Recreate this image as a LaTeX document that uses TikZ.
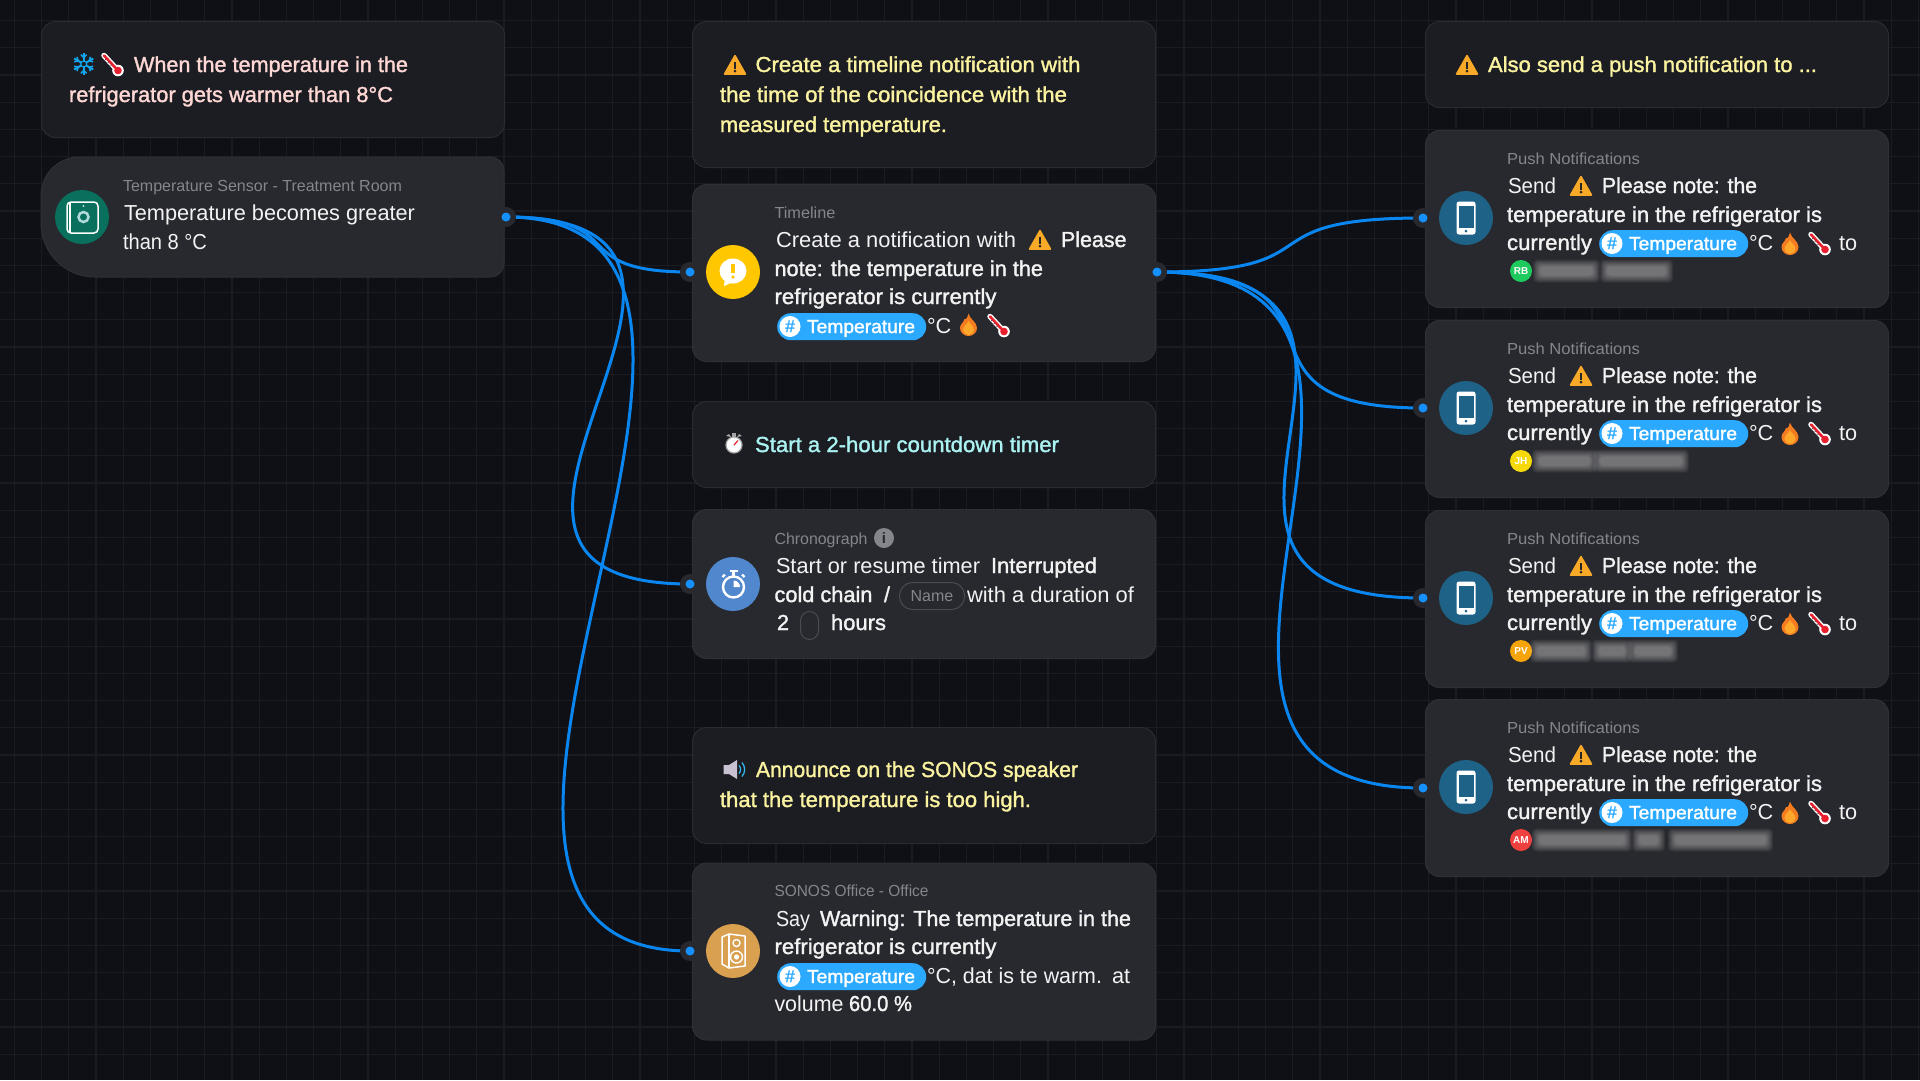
\documentclass[tikz,border=0pt]{standalone}
\usepackage{fontspec}
\setmainfont{Liberation Sans}
\newfontfamily\medf[FakeBold=1.5]{Liberation Sans}
\definecolor{bgc}{HTML}{0F1015}
\definecolor{gridc}{HTML}{1B1C21}
\definecolor{cmtc}{HTML}{1C1D22}
\definecolor{cmtb}{HTML}{2A2B30}
\definecolor{cardc}{HTML}{28292E}
\definecolor{cardb}{HTML}{2F3035}
\definecolor{wirec}{HTML}{0A86F0}
\definecolor{dotc}{HTML}{1590FF}
\definecolor{lblc}{HTML}{85868B}
\definecolor{bodyc}{HTML}{F3F3F4}
\definecolor{pinkc}{HTML}{FFD8D5}
\definecolor{yelc}{HTML}{FBF3A0}
\definecolor{cyac}{HTML}{ABF2F2}
\definecolor{pillc}{HTML}{2BA9FF}
\definecolor{warnc}{HTML}{F9A928}
\definecolor{phonec}{HTML}{1F6288}
\definecolor{flamec}{HTML}{F47B20}
\definecolor{flamei}{HTML}{FDA82A}
\definecolor{redc}{HTML}{E8202E}
\definecolor{icoyel}{HTML}{FFC700}
\definecolor{icoblu}{HTML}{5188CD}
\definecolor{icotan}{HTML}{D9A04F}
\definecolor{icogrn}{HTML}{08705C}
\definecolor{snowc}{HTML}{12A5EE}
\definecolor{avgrn}{HTML}{1EC95E}
\definecolor{avyel}{HTML}{F5D90A}
\definecolor{avora}{HTML}{F5A50A}
\definecolor{avred}{HTML}{EF4040}
\definecolor{pillb}{HTML}{4A4B50}
\definecolor{spkc}{HTML}{C9C2D3}
\newcounter{tn}
\tikzset{
  cmtbox/.style={draw=cmtb,fill=cmtc,line width=1pt,rounded corners=14pt,inner sep=0pt,anchor=north west},
  cardbox/.style={draw=cardb,fill=cardc,line width=1pt,rounded corners=14pt,inner sep=0pt,anchor=north west},
  txt/.style={anchor=base west,inner sep=0pt,outer sep=0pt,text=bodyc,font=\fontsize{21.7}{26}\selectfont},
  med/.style={font=\fontsize{21.7}{26}\medf},
  lbl/.style={text=lblc,font=\fontsize{16}{20}\selectfont},
  wire/.style={draw=wirec,line width=3pt},
  halo/.style={circle,fill=cardc,minimum size=20pt,inner sep=0pt},
  portdot/.style={circle,fill=dotc,minimum size=9pt,inner sep=0pt},
  icocirc/.style={circle,minimum size=54pt,inner sep=0pt},
}
\newcommand\tx[4][]{\stepcounter{tn}\node[txt,#1] (t\arabic{tn}) at (#2,#3) {#4};}
\newcommand\txw[5][]{\stepcounter{tn}\node[txt,#1] (t\arabic{tn}) at (#2,#3) {\resizebox{#4pt}{\height}{#5}};}
\newcommand\portat[3]{\node[halo] (#1h) at (#2,#3) {};\node[portdot] (#1) at (#2,#3) {};}
\newcommand\warnico[2]{\begin{scope}[shift={(#1,#2)}]
  \fill[warnc,draw=warnc,line width=1.5pt,line join=round] (0,-9.5) -- (10.5,9) -- (-10.5,9) -- cycle;
  \fill[black!85] (-1.3,-3.5) rectangle (1.3,3.5);
  \fill[black!85] (0,6.2) circle (1.5);
\end{scope}}
\newcommand\flameico[2]{\begin{scope}[shift={(#1,#2)}]
  \fill[flamec] (0,-11.5) .. controls (1,-6) and (8.5,-3) .. (8.5,3) .. controls (8.5,8) and (4,11) .. (0,11) .. controls (-4,11) and (-8.5,8) .. (-8.5,3) .. controls (-8.5,-1) and (-5,-2) .. (-4,-6) .. controls (-2,-5) and (-1,-8) .. (0,-11.5) -- cycle;
  \fill[flamei] (0,-4) .. controls (1,-1) and (5.5,1) .. (5.5,5) .. controls (5.5,8) and (2.5,10) .. (0,10) .. controls (-2.5,10) and (-5.5,8) .. (-5.5,5) .. controls (-5.5,1) and (-1,-1) .. (0,-4) -- cycle;
\end{scope}}
\newcommand\thermico[2]{\begin{scope}[shift={(#1,#2)}]
  \draw[white,line width=5.5pt,line cap=round] (-9,-8.5) -- (4.5,6);
  \fill[white] (5,6.5) circle (5.8);
  \draw[redc,line width=2.6pt,line cap=round] (-9,-8.5) -- (4.5,6);
  \fill[redc] (5,6.5) circle (3.8);
  \foreach \k in {0.2,0.4,0.6}{\draw[black!70,line width=.7pt] ($(-9,-8.5)!\k!(4.5,6)+(-1.6,1.6)$) -- ($(-9,-8.5)!\k!(4.5,6)+(-.6,.6)$);}
\end{scope}}
\newcommand\temppill[3][Temperature]{\begin{scope}[shift={(#2,#3)}]
  \stepcounter{tn}
  \node[fill=pillc,rounded corners=13.5pt,inner sep=0pt,minimum width=149pt,minimum height=27pt,anchor=north west] (t\arabic{tn}) at (0,0) {};
  \fill[white] (13,13.5) circle (10.5);
  \stepcounter{tn}
  \node[text=pillc,inner sep=0pt,font=\fontsize{17}{17}\medf] (t\arabic{tn}) at (13,13.2) {\#};
  \stepcounter{tn}
  \node[txt,text=white,anchor=base west,font=\fontsize{19}{20}\medf] (t\arabic{tn}) at (30,20) {\resizebox{108pt}{\height}{#1}};
\end{scope}}
\newcommand\avatar[5]{\stepcounter{tn}\node[circle,fill=#4,minimum size=22pt,inner sep=0pt,text=#5,font=\fontsize{10}{10}\bfseries] (t\arabic{tn}) at (#1,#2) {#3};}
\newcommand\blurbar[3]{\foreach \e in {7,6,5,4,3,2,1,0}{\fill[white,opacity=.055,rounded corners=4pt] (#1-\e,#3-4.5-\e) rectangle (#2+\e,#3+4.5+\e);}}
\newcommand\pushcard[5]{%
  \node[cardbox,minimum width=463pt,minimum height=177pt] (#1) at (1425,#2) {};
  \node[icocirc,fill=phonec] (#1i) at (1466,#2+88) {};
  \begin{scope}[shift={(1466,#2+88)}]
    \fill[white,rounded corners=2.5pt] (-9.5,-16.5) rectangle (9.5,16.5);
    \fill[phonec] (-7.5,-12) rectangle (7.5,10);
    \fill[phonec] (0,13.2) circle (1.5);
  \end{scope}
  \txw[lbl]{1507}{#2+34}{133}{Push Notifications}
  \txw{1508}{#2+63}{48}{Send}
  \warnico{1581}{#2+56}
  \txw[med]{1602}{#2+63}{155}{Please note: the}
  \txw[med]{1507}{#2+92}{315}{temperature in the refrigerator is}
  \txw[med]{1507}{#2+120}{85}{currently}
  \temppill{1599}{#2+100}
  \tx{1749}{#2+120}{°C}
  \flameico{1790}{#2+114}
  \thermico{1820}{#2+113}
  \tx{1839}{#2+120}{to}
  \avatar{1521}{#2+141}{#3}{#4}{#5}
}
\usetikzlibrary{calc}
\begin{document}
\begin{tikzpicture}[x=1pt,y=-1pt]
\useasboundingbox (0,0) rectangle (1920,1080);
\fill[bgc] (0,0) rectangle (1920,1080);
\foreach \k in {0,...,70}{\draw[gridc,line width=1.2pt] ({14.4+27.2*\k},0) -- ({14.4+27.2*\k},1080);}
\foreach \k in {0,...,39}{\draw[gridc,line width=1.2pt] (0,{20.6+27.2*\k}) -- (1920,{20.6+27.2*\k});}

% comment boxes
\node[cmtbox,minimum width=463pt,minimum height=116pt] (cm1) at (41,21) {};
\node[cmtbox,minimum width=463pt,minimum height=146pt] (cm2) at (692,21) {};
\node[cmtbox,minimum width=463pt,minimum height=86pt] (cm3) at (692,401) {};
\node[cmtbox,minimum width=463pt,minimum height=116pt] (cm4) at (692,727) {};
\node[cmtbox,minimum width=463pt,minimum height=86pt] (cm5) at (1425,21) {};

% sensor card
\draw[draw=cardb,fill=cardc,line width=1pt] (80,157) -- (490,157) .. controls (498,157) and (504,163) .. (504,171) -- (504,263) .. controls (504,271) and (498,277) .. (490,277) -- (95,277) .. controls (65,277) and (41,253) .. (41,223) -- (41,196) .. controls (41,174) and (58,157) .. (80,157) -- cycle;
% other cards
\node[cardbox,minimum width=463pt,minimum height=177pt] (timeline) at (692,184) {};
\node[cardbox,minimum width=463pt,minimum height=149pt] (chrono) at (692,509) {};
\node[cardbox,minimum width=463pt,minimum height=177pt] (sonos) at (692,862.5) {};

% comment texts
\begin{scope}[shift={(83.7,64)}]
  \foreach \a in {30,90,150}{\draw[snowc,line width=2pt] (\a:-11) -- (\a:11);
    \foreach \s in {-1,1}{\draw[snowc,line width=1.6pt] ($(\a:6.5*\s)$) -- ($(\a:6.5*\s)+(\a+45:4*\s)$);
    \draw[snowc,line width=1.6pt] ($(\a:6.5*\s)$) -- ($(\a:6.5*\s)+(\a-45:4*\s)$);}}
  \draw[snowc,line width=1.2pt,fill=cmtc] (0,0) circle (3);
\end{scope}
\thermico{113}{64}
\txw[med,text=pinkc]{134}{72}{274}{When the temperature in the}
\txw[med,text=pinkc]{69}{102}{324}{refrigerator gets warmer than 8°C}

\warnico{735}{65}
\txw[med,text=yelc]{755.5}{72}{325}{Create a timeline notification with}
\txw[med,text=yelc]{720}{102}{347}{the time of the coincidence with the}
\txw[med,text=yelc]{720}{132}{227}{measured temperature.}

\warnico{1467}{65}
\txw[med,text=yelc]{1488}{72}{329}{Also send a push notification to ...}

\begin{scope}[shift={(734,445)}]
  \fill[gray!70] (-2,-12) rectangle (2,-8);
  \fill[gray!70] (-8,-9) -- (-5,-11) -- (-3,-8) -- cycle;
  \fill[gray!70] (8,-9) -- (5,-11) -- (3,-8) -- cycle;
  \fill[white,draw=gray!70,line width=1.2pt] (0,0) circle (8);
  \draw[redc,line width=1.2pt] (0,0) -- (4,-4.5);
\end{scope}
\txw[med,text=cyac]{755}{452}{304}{Start a 2-hour countdown timer}

\begin{scope}[shift={(734,769.5)}]
  \fill[spkc] (-10.5,-4.5) -- (-5,-4.5) -- (3,-9.5) -- (3,9.5) -- (-5,4.5) -- (-10.5,4.5) -- cycle;
  \draw[cyan!80!white,line width=1.2pt] (5,-4) .. controls (7,-2) and (7,2) .. (5,4);
  \draw[cyan!80!white,line width=1.2pt] (8,-7) .. controls (11.5,-3) and (11.5,3) .. (8,7);
\end{scope}
\txw[med,text=yelc]{756}{777}{322}{Announce on the SONOS speaker}
\txw[med,text=yelc]{720}{807}{311}{that the temperature is too high.}

% sensor content
\node[icocirc,fill=icogrn] (isensor) at (82,217) {};
\begin{scope}[shift={(82,217)}]
  \draw[white,line width=1.5pt,rounded corners=4pt] (-15,-15) rectangle (16,16);
  \draw[white,line width=1.2pt] (-12,-15) -- (-12,16);
  \draw[white!70!teal,line width=2.5pt] (1.5,0) circle (5);
  \fill[white!70!teal] (1.5,-11) circle (1.2);
\end{scope}
\txw[lbl]{123}{191}{279}{Temperature Sensor - Treatment Room}
\txw{124}{220}{291}{Temperature becomes greater}
\txw{123}{249}{84}{than 8 °C}

% timeline content
\node[icocirc,fill=icoyel] (itime) at (733,272) {};
\begin{scope}[shift={(733,272)}]
  \fill[white] (0,-1) ellipse (13.5 and 12.5);
  \fill[white] (-8,6) -- (-9,14) -- (0,10) -- cycle;
  \fill[icoyel] (-1.6,-8.5) rectangle (1.6,1);
  \fill[icoyel] (0,5) circle (1.9);
\end{scope}
\txw[lbl]{774.5}{218}{61}{Timeline}
\txw{776}{247}{240}{Create a notification with}
\warnico{1040}{240}
\txw[med]{1061}{247}{65.5}{Please}
\txw[med]{774.5}{276}{268.5}{note: the temperature in the}
\txw[med]{774.5}{304}{222}{refrigerator is currently}
\temppill{777}{313}
\tx{927}{333}{°C}
\flameico{968.5}{325}
\thermico{999}{325}

% chrono content
\node[icocirc,fill=icoblu] (ichrono) at (733,584) {};
\begin{scope}[shift={(733.5,584)}]
  \draw[white,line width=2.4pt] (0,3) circle (10.5);
  \fill[white] (0,3) -- (0,-3.5) .. controls (4,-3.5) and (6.5,-.5) .. (6.5,3) -- cycle;
  \draw[white,line width=2.4pt] (-4,-13) -- (4,-13);
  \draw[white,line width=2.4pt] (0,-13) -- (0,-8);
  \draw[white,line width=2.4pt] (-11,-7) -- (-8.5,-9.5);
  \draw[white,line width=2.4pt] (11,-7) -- (8.5,-9.5);
\end{scope}
\txw[lbl]{774.5}{544}{93}{Chronograph}
\node[circle,fill=lblc,minimum size=20pt,inner sep=0pt,text=cardc,font=\fontsize{15}{15}\bfseries] (info) at (884,538) {i};
\txw{776}{573}{204}{Start or resume timer}
\txw[med]{991}{573}{106}{Interrupted}
\txw[med]{774.5}{602}{98}{cold chain}
\tx[med]{884}{602}{/}
\node[draw=pillb,line width=1pt,rounded corners=13pt,minimum width=65pt,minimum height=27pt,inner sep=0pt,anchor=north west,text=lblc,font=\fontsize{16}{16}\selectfont] (namep) at (899,582) {Name};
\txw{967}{602}{167}{with a duration of}
\tx[med]{777}{630}{2}
\node[draw=pillb,line width=1pt,rounded corners=9pt,minimum width=18pt,minimum height=28pt,inner sep=0pt,anchor=north west] (durp) at (800,611) {};
\txw[med]{831}{630}{55}{hours}

% sonos content
\node[icocirc,fill=icotan] (isonos) at (733,951) {};
\begin{scope}[shift={(733,951)}]
  \draw[white,line width=1.5pt,line join=round] (-11,-14) -- (-4,-17) -- (12,-15) -- (12,15) -- (-4,17) -- (-11,13) -- cycle;
  \draw[white,line width=1.5pt] (-4,-17) -- (-4,17);
  \draw[white,line width=1.4pt] (3.5,-8) circle (3.5);
  \draw[white,line width=1.4pt] (3.5,6) circle (6);
  \fill[white] (3.5,6) circle (2.6);
\end{scope}
\txw[lbl]{774.5}{896}{154}{SONOS Office - Office}
\txw{776}{926}{34}{Say}
\txw[med]{820}{926}{311}{Warning: The temperature in the}
\txw[med]{774.5}{954}{222}{refrigerator is currently}
\temppill{777}{963}
\txw{927}{983}{175}{°C, dat is te warm.}
\tx{1112}{983}{at}
\txw{774.5}{1011}{69}{volume}
\txw[med]{849}{1011}{63}{60.0 \%}

% push cards
\pushcard{push1}{130}{RB}{avgrn}{white}
\blurbar{1540}{1593}{271}\blurbar{1607}{1666}{271}
\pushcard{push2}{320}{JH}{avyel}{white}
\blurbar{1539}{1590}{461}\blurbar{1600}{1682}{461}
\pushcard{push3}{510}{PV}{avora}{white}
\blurbar{1537}{1585}{651}\blurbar{1599}{1625}{651}\blurbar{1635}{1671}{651}
\pushcard{push4}{699}{AM}{avred}{white}
\blurbar{1539}{1625}{840}\blurbar{1639}{1658}{840}\blurbar{1675}{1766}{840}

% ports
\coordinate (psensor) at (506,217);
\coordinate (ptl) at (690,272);
\coordinate (ptr) at (1157,272);
\coordinate (pch) at (690,584);
\coordinate (pso) at (690,951);
\coordinate (pp1) at (1423,218);
\coordinate (pp2) at (1423,408);
\coordinate (pp3) at (1423,598);
\coordinate (pp4) at (1423,788);
\draw[wire] (psensor) .. controls +(129,0) and +(-129,0) .. (ptl);
\draw[wire] (psensor) .. controls +(308,0) and +(-308,0) .. (pch);
\draw[wire] (psensor) .. controls +(345,0) and +(-345,0) .. (pso);
\draw[wire] (ptr) .. controls +(185,0) and +(-185,0) .. (pp1);
\draw[wire] (ptr) .. controls +(215,0) and +(-215,0) .. (pp2);
\draw[wire] (ptr) .. controls +(312,0) and +(-312,0) .. (pp3);
\draw[wire] (ptr) .. controls +(340,0) and +(-340,0) .. (pp4);
\portat{dsensor}{506}{217}
\portat{dtl}{690}{272}
\portat{dtr}{1157}{272}
\portat{dch}{690}{584}
\portat{dso}{690}{951}
\portat{dp1}{1423}{218}
\portat{dp2}{1423}{408}
\portat{dp3}{1423}{598}
\portat{dp4}{1423}{788}
\end{tikzpicture}
\end{document}
